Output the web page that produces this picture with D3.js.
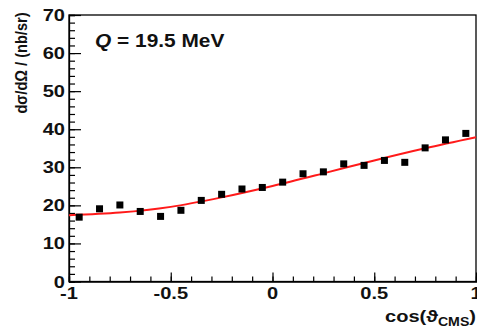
<!DOCTYPE html>
<html>
<head>
<meta charset="utf-8">
<script src="https://cdn.jsdelivr.net/npm/d3@7/dist/d3.min.js"></script>
<style>
html,body{margin:0;padding:0;background:#fff;}
svg{display:block;}
text{font-family:"Liberation Sans",Arial,sans-serif;font-weight:bold;fill:#111;}
</style>
</head>
<body>
<svg id="c" width="477" height="331"></svg>
<script>
// data
const cosBins = [-0.95,-0.85,-0.75,-0.65,-0.55,-0.45,-0.35,-0.25,-0.15,-0.05,0.05,0.15,0.25,0.35,0.45,0.55,0.65,0.75,0.85,0.95];
const xsec = [16.9,19.1,20.1,18.4,17.1,18.7,21.3,22.9,24.3,24.7,26.1,28.3,28.8,30.9,30.5,31.8,31.3,35.1,37.2,38.9];
const fitX = [-1,-0.75,-0.5,-0.25,0,0.25,0.5,0.75,1];
const fitY = [17.4,18.1,19.6,22.1,25.1,28.4,31.8,35.0,37.9];
const xTickLabels = [-1,-0.5,0,0.5,1];
const yTickLabels = [0,10,20,30,40,50,60,70];
const titleText = "Q";
const titleRest = " = 19.5 MeV";

const SX = 1.18;
const svg = d3.select("#c");
const x = d3.scaleLinear().domain([-1,1]).range([69,476]);
const y = d3.scaleLinear().domain([0,70]).range([281.5,15]);

// frame
svg.append("rect").attr("x",x(-1)).attr("y",y(70)).attr("width",x(1)-x(-1)).attr("height",y(0)-y(70))
  .attr("fill","none").attr("stroke","#000").attr("stroke-width",1.3);

// y axis ticks (inward)
const yMinor = d3.range(0,70.001,2);
svg.append("g").attr("transform",`translate(${x(-1)},0)`)
  .call(d3.axisLeft(y).tickValues(yMinor).tickSize(-6).tickFormat(""))
  .call(g=>g.select(".domain").attr("stroke-width",1.3));
svg.append("g").attr("transform",`translate(${x(-1)},0)`)
  .call(d3.axisLeft(y).tickValues(yTickLabels).tickSize(-12).tickFormat(""))
  .call(g=>g.select(".domain").remove());
// x axis ticks (inward)
const xMinor = d3.range(-10,10.001,1).map(v=>v/10);
svg.append("g").attr("transform",`translate(0,${y(0)})`)
  .call(d3.axisBottom(x).tickValues(xMinor).tickSize(-5).tickFormat(""))
  .call(g=>g.select(".domain").attr("stroke-width",1.3));
svg.append("g").attr("transform",`translate(0,${y(0)})`)
  .call(d3.axisBottom(x).tickValues(xTickLabels).tickSize(-9).tickFormat(""))
  .call(g=>g.select(".domain").remove());
svg.selectAll(".tick line").attr("stroke","#000").attr("stroke-width",1.2);

// y tick labels
svg.selectAll(".ylab").data(yTickLabels).enter().append("text")
  .attr("transform",d=>`translate(65,${y(d)+6}) scale(${SX},1)`)
  .attr("text-anchor","end").attr("font-size",17).text(d=>d);
// x tick labels
svg.selectAll(".xlab").data(xTickLabels).enter().append("text")
  .attr("transform",d=>`translate(${x(d)},299) scale(${SX},1)`)
  .attr("text-anchor","middle").attr("font-size",17).text(d=>d);

// axis titles
const xt = svg.append("text").attr("transform",`translate(476,322) scale(${SX},1)`)
  .attr("text-anchor","end").attr("font-size",17);
xt.append("tspan").text("cos(\u03D1");
xt.append("tspan").attr("font-size",12).attr("dy",4).text("CMS");
xt.append("tspan").attr("dy",-4).text(")");

svg.append("text").attr("transform",`translate(27,63) rotate(-90) scale(1,${SX})`)
  .attr("text-anchor","middle").attr("font-size",14.6).text("d\u03C3/d\u03A9 / (nb/sr)");

// label
const q = svg.append("text").attr("transform",`translate(95,47) scale(${SX},1)`).attr("font-size",17.7);
q.append("tspan").attr("font-style","italic").text(titleText);
q.append("tspan").text(titleRest);

// fit curve
const line = d3.line().x((d,i)=>x(fitX[i])).y(d=>y(d)).curve(d3.curveMonotoneX);
svg.append("path").datum(fitY).attr("d",line).attr("fill","none").attr("stroke","#ff1a1a").attr("stroke-width",2);

// data points
svg.selectAll(".pt").data(xsec).enter().append("rect")
  .attr("x",(d,i)=>x(cosBins[i])-3.5).attr("y",d=>y(d)-3.5)
  .attr("width",7).attr("height",7).attr("fill","#000");
</script>
</body>
</html>
